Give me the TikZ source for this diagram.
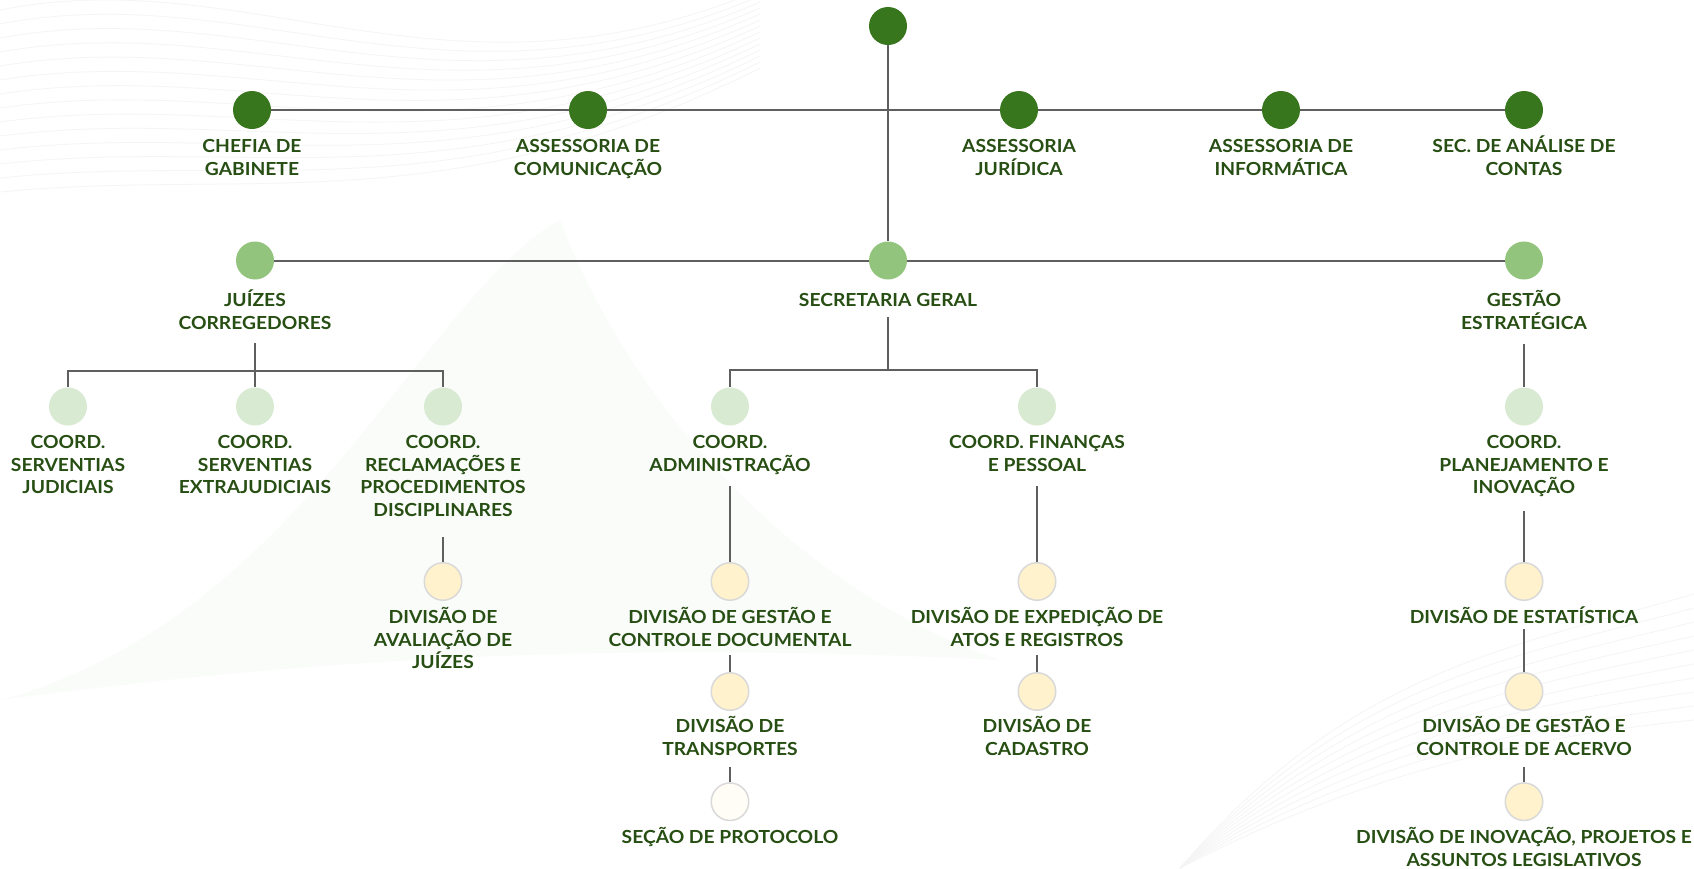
\documentclass[tikz,border=0pt]{standalone}
\usepackage{fontspec}
\setmainfont{Lato}[FakeStretch=1.07]
\usetikzlibrary{backgrounds}

\definecolor{verdeA}{HTML}{38761D}
\definecolor{verdeB}{HTML}{93C47D}
\definecolor{verdeC}{HTML}{D9EAD3}
\definecolor{amarelo}{HTML}{FFF2CC}
\definecolor{creme}{HTML}{FFFDF6}
\definecolor{borda}{HTML}{D9D9D9}
\definecolor{texto}{HTML}{274E13}
\definecolor{linha}{HTML}{5F5F5F}

\pgfdeclarelayer{deco}
\pgfsetlayers{deco,background,main}

\tikzset{
  bola/.style={circle, minimum size=38pt, inner sep=0pt},
  nivA/.style={bola, fill=verdeA},
  nivB/.style={bola, fill=verdeB},
  nivC/.style={bola, fill=verdeC},
  nivD/.style={bola, fill=amarelo, draw=borda, line width=1.5pt, minimum size=37.5pt},
  nivE/.style={nivD, fill=creme},
  rotulo/.style={font=\bfseries\fontsize{18}{22.5}\selectfont, text=texto, align=center, anchor=base, inner sep=0pt},
  l2/.style={yshift=-22.5pt},
  l3/.style={yshift=-45pt},
  l4/.style={yshift=-67.5pt},
  liga/.style={draw=linha, line width=2pt}
}

\begin{document}
\begin{tikzpicture}[x=1pt, y=-1pt]
\useasboundingbox (0,0) rectangle (1694,868);

% fundo
\begin{pgfonlayer}{deco}
\fill[white] (0,0) rectangle (1694,868);
\foreach \i in {0,...,13}
  \draw[black!4, line width=0.8pt] (0,{10+14*\i}) .. controls (250,{-40+16*\i}) and (450,{120+8*\i}) .. (760,{-10+6*\i});
\foreach \i in {0,...,9}
  \draw[black!4, line width=0.8pt] (1180,868) .. controls (1350,{780-12*\i}) and (1500,{740-10*\i}) .. (1694,{720-14*\i});
\fill[verdeC!12] (0,700) .. controls (300,620) and (420,300) .. (560,220) .. controls (640,430) and (820,600) .. (1000,660) .. controls (600,640) and (300,660) .. cycle;
\end{pgfonlayer}

% nivel 1
\node[nivA] (raiz) at (888,26) {};
\node[nivA] (chefia) at (252,110) {};
\node[nivA] (comunic) at (588,110) {};
\node[nivA] (juridica) at (1019,110) {};
\node[nivA] (informat) at (1281,110) {};
\node[nivA] (analise) at (1524,110) {};
\node[rotulo, l2] (chefia-t) at (252,152.5) {CHEFIA DE\\GABINETE};
\node[rotulo, l2] (comunic-t) at (588,152.5) {ASSESSORIA DE\\COMUNICAÇÃO};
\node[rotulo, l2] (juridica-t) at (1019,152.5) {ASSESSORIA\\JURÍDICA};
\node[rotulo, l2] (informat-t) at (1281,152.5) {ASSESSORIA DE\\INFORMÁTICA};
\node[rotulo, l2] (analise-t) at (1524,152.5) {SEC. DE ANÁLISE DE\\CONTAS};

% nivel 2
\node[nivB] (juizes) at (255,260.5) {};
\node[nivB] (secger) at (888,260.5) {};
\node[nivB] (gestao) at (1524,260.5) {};
\node[rotulo, l2] (juizes-t) at (255,306.5) {JUÍZES\\CORREGEDORES};
\node[rotulo] (secger-t) at (888,306.5) {SECRETARIA GERAL};
\node[rotulo, l2] (gestao-t) at (1524,306.5) {GESTÃO\\ESTRATÉGICA};

% nivel 3
\node[nivC] (servjud) at (68,406.5) {};
\node[nivC] (servext) at (255,406.5) {};
\node[nivC] (reclam) at (443,406.5) {};
\node[nivC] (admin) at (730,406.5) {};
\node[nivC] (financ) at (1037,406.5) {};
\node[nivC] (planej) at (1524,406.5) {};
\node[rotulo, l3] (servjud-t) at (68,448.5) {COORD.\\SERVENTIAS\\JUDICIAIS};
\node[rotulo, l3] (servext-t) at (255,448.5) {COORD.\\SERVENTIAS\\EXTRAJUDICIAIS};
\node[rotulo, l4] (reclam-t) at (443,448.5) {COORD.\\RECLAMAÇÕES E\\PROCEDIMENTOS\\DISCIPLINARES};
\node[rotulo, l2] (admin-t) at (730,448.5) {COORD.\\ADMINISTRAÇÃO};
\node[rotulo, l2] (financ-t) at (1037,448.5) {COORD. FINANÇAS\\E PESSOAL};
\node[rotulo, l3] (planej-t) at (1524,448.5) {COORD.\\PLANEJAMENTO E\\INOVAÇÃO};

% nivel 4
\node[nivD] (avaliac) at (443,581.5) {};
\node[nivD] (gestdoc) at (730,581.5) {};
\node[nivD] (expedic) at (1037,581.5) {};
\node[nivD] (estatist) at (1524,581.5) {};
\node[rotulo, l3] (avaliac-t) at (443,623.5) {DIVISÃO DE\\AVALIAÇÃO DE\\JUÍZES};
\node[rotulo, l2] (gestdoc-t) at (730,623.5) {DIVISÃO DE GESTÃO E\\CONTROLE DOCUMENTAL};
\node[rotulo, l2] (expedic-t) at (1037,623.5) {DIVISÃO DE EXPEDIÇÃO DE\\ATOS E REGISTROS};
\node[rotulo] (estatist-t) at (1524,623.5) {DIVISÃO DE ESTATÍSTICA};

% nivel 5
\node[nivD] (transp) at (730,691.5) {};
\node[nivD] (cadastro) at (1037,691.5) {};
\node[nivD] (acervo) at (1524,691.5) {};
\node[rotulo, l2] (transp-t) at (730,732.5) {DIVISÃO DE\\TRANSPORTES};
\node[rotulo, l2] (cadastro-t) at (1037,732.5) {DIVISÃO DE\\CADASTRO};
\node[rotulo, l2] (acervo-t) at (1524,732.5) {DIVISÃO DE GESTÃO E\\CONTROLE DE ACERVO};

% nivel 6
\node[nivE] (protoc) at (730,801.7) {};
\node[nivD] (inovac) at (1524,801.7) {};
\node[rotulo] (protoc-t) at (730,843.5) {SEÇÃO DE PROTOCOLO};
\node[rotulo, l2] (inovac-t) at (1524,843.5) {DIVISÃO DE INOVAÇÃO, PROJETOS E\\ASSUNTOS LEGISLATIVOS};

% pontos das ligacoes
\coordinate (juizes-s) at (255,343);
\coordinate (juizes-b) at (255,370.5);
\coordinate (secger-s) at (888,317);
\coordinate (secger-b) at (888,370);
\coordinate (gestao-s) at (1524,344);
\coordinate (reclam-s) at (443,537);
\coordinate (admin-s) at (730,486);
\coordinate (financ-s) at (1037,486);
\coordinate (planej-s) at (1524,511);
\coordinate (gestdoc-s) at (730,655);
\coordinate (expedic-s) at (1037,655);
\coordinate (estatist-s) at (1524,629);
\coordinate (transp-s) at (730,766.5);
\coordinate (acervo-s) at (1524,767);

\begin{pgfonlayer}{background}
\draw[liga] (chefia) -- (analise);
\draw[liga] (raiz) -- (secger);
\draw[liga] (juizes) -- (gestao);
\draw[liga] (juizes-s) -- (juizes-b);
\draw[liga] (servjud) |- (juizes-b) -| (reclam);
\draw[liga] (juizes-b) -- (servext);
\draw[liga] (secger-s) -- (secger-b);
\draw[liga] (admin) |- (secger-b) -| (financ);
\draw[liga] (gestao-s) -- (planej);
\draw[liga] (reclam-s) -- (avaliac);
\draw[liga] (admin-s) -- (gestdoc);
\draw[liga] (financ-s) -- (expedic);
\draw[liga] (planej-s) -- (estatist);
\draw[liga] (gestdoc-s) -- (transp);
\draw[liga] (expedic-s) -- (cadastro);
\draw[liga] (estatist-s) -- (acervo);
\draw[liga] (transp-s) -- (protoc);
\draw[liga] (acervo-s) -- (inovac);
\end{pgfonlayer}
\end{tikzpicture}
\end{document}
